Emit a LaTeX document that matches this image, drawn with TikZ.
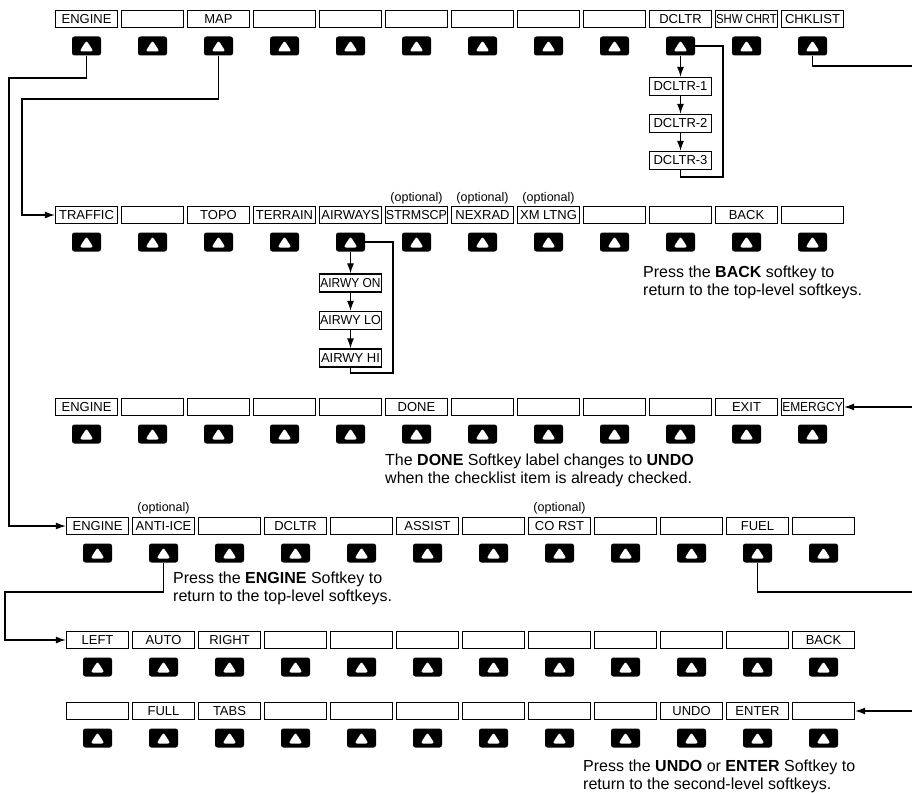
\documentclass[tikz,border=0pt]{standalone}
\usepackage{fontspec}
\setmainfont{Liberation Sans}
\usetikzlibrary{arrows.meta}
\begin{document}
\begin{tikzpicture}[x=1pt,y=-1pt,
  sk/.style={draw=black, line width=1.3pt, minimum width=62pt, minimum height=17pt, inner sep=0pt, font=\fontsize{13}{14}\selectfont},
  sub/.style={sk, minimum height=18pt},
  key/.style={fill=black, rounded corners=2.5pt, minimum width=29pt, minimum height=19pt, inner sep=0pt,
    path picture={\fill[white] ([xshift=-7pt,yshift=-5.5pt]path picture bounding box.center) -- ++(14pt,0pt) -- ++(-7pt,11pt) -- cycle;}},
  opt/.style={font=\fontsize{12.5}{13}\selectfont, inner sep=0pt},
  note/.style={font=\fontsize{16}{17.5}\selectfont, align=left, inner sep=0pt, anchor=north west},
  wire/.style={line width=1.2pt},
  arr/.style={wire, -{Latex[length=10pt,width=7pt]}},
]
\useasboundingbox (0,0) rectangle (912,792);

% Row A (top level)
\foreach \i/\t in {0/ENGINE,1/{},2/MAP,3/{},4/{},5/{},6/{},7/{},8/{},9/DCLTR,10/\scalebox{0.87}[1]{SHW CHRT},11/CHKLIST}{
  \node[sk] (bA\i) at ({86.5+66*\i},19) {\t};
  \node[key] (kA\i) at ({86.5+66*\i},46) {};
}
% Row B (map)
\foreach \i/\t in {0/TRAFFIC,1/{},2/TOPO,3/TERRAIN,4/AIRWAYS,5/\scalebox{0.96}[1]{STRMSCP},6/NEXRAD,7/XM LTNG,8/{},9/{},10/BACK,11/{}}{
  \node[sk] (bB\i) at ({86.5+66*\i},215) {\t};
  \node[key] (kB\i) at ({86.5+66*\i},242) {};
}
% Row C (checklist)
\foreach \i/\t in {0/ENGINE,1/{},2/{},3/{},4/{},5/DONE,6/{},7/{},8/{},9/{},10/EXIT,11/\scalebox{0.92}[1]{EMERGCY}}{
  \node[sk] (bC\i) at ({86.5+66*\i},407) {\t};
  \node[key] (kC\i) at ({86.5+66*\i},434) {};
}
% Row D (engine)
\foreach \i/\t in {0/ENGINE,1/ANTI-ICE,2/{},3/DCLTR,4/{},5/ASSIST,6/{},7/CO RST,8/{},9/{},10/FUEL,11/{}}{
  \node[sk] (bD\i) at ({97.5+66*\i},526) {\t};
  \node[key] (kD\i) at ({97.5+66*\i},553) {};
}
% Row E (fuel)
\foreach \i/\t in {0/LEFT,1/AUTO,2/RIGHT,3/{},4/{},5/{},6/{},7/{},8/{},9/{},10/{},11/BACK}{
  \node[sk] (bE\i) at ({97.5+66*\i},640) {\t};
  \node[key] (kE\i) at ({97.5+66*\i},667) {};
}
% Row F (fuel entry)
\foreach \i/\t in {0/{},1/FULL,2/TABS,3/{},4/{},5/{},6/{},7/{},8/{},9/UNDO,10/ENTER,11/{}}{
  \node[sk] (bF\i) at ({97.5+66*\i},711) {\t};
  \node[key] (kF\i) at ({97.5+66*\i},738) {};
}

% optional tags
\node[opt] (oB5) at ({86.5+66*5},198) {(optional)};
\node[opt] (oB6) at ({86.5+66*6},198) {(optional)};
\node[opt] (oB7) at ({86.5+66*7},198) {(optional)};
\node[opt] (oD1) at ({97.5+66*1},508) {(optional)};
\node[opt] (oD7) at ({97.5+66*7},508) {(optional)};

% declutter sub-menu
\node[sub] (d1) at (680.5,86.5) {DCLTR-1};
\node[sub] (d2) at (680.5,123.5) {DCLTR-2};
\node[sub] (d3) at (680.5,160.5) {DCLTR-3};
\draw[arr] (kA9) -- (d1);
\draw[arr] (d1) -- (d2);
\draw[arr] (d2) -- (d3);
\coordinate (dl) at (723,177);
\draw[wire] (d3.south) |- (dl) |- (kA9.east);

% airways sub-menu
\node[sub] (a1) at (350.5,283) {\scalebox{0.92}[1]{AIRWY ON}};
\node[sub] (a2) at (350.5,320.5) {\scalebox{0.96}[1]{AIRWY LO}};
\node[sub] (a3) at (350.5,358) {AIRWY HI};
\draw[arr] (kB4) -- (a1);
\draw[arr] (a1) -- (a2);
\draw[arr] (a2) -- (a3);
\coordinate (al) at (393,373);
\draw[wire] (a3.south) |- (al) |- (kB4.east);

% long connectors
\coordinate (e1) at (9,78);
\draw[arr] (kA0.south) |- (e1) |- (bD0.west);
\coordinate (m1) at (22,99);
\draw[arr] (kA2.south) |- (m1) |- (bB0.west);
\coordinate (c1) at (918,66);
\draw[arr] (kA11.south) |- (c1) |- (bC11.east);
\coordinate (f1) at (918,592);
\draw[arr] (kD10.south) |- (f1) |- (bF11.east);
\coordinate (i1) at (5,592);
\draw[arr] (kD1.south) |- (i1) |- (bE0.west);

% notes
\node[note] (nBack) at (643,266) {Press the \textbf{BACK} softkey to\\return to the top-level softkeys.};
\node[note] (nDone) at (385,454) {The \textbf{DONE} Softkey label changes to \textbf{UNDO}\\when the checklist item is already checked.};
\node[note] (nEng) at (173,572) {Press the \textbf{ENGINE} Softkey to\\return to the top-level softkeys.};
\node[note] (nUndo) at (583,760) {Press the \textbf{UNDO} or \textbf{ENTER} Softkey to\\return to the second-level softkeys.};
\end{tikzpicture}
\end{document}
